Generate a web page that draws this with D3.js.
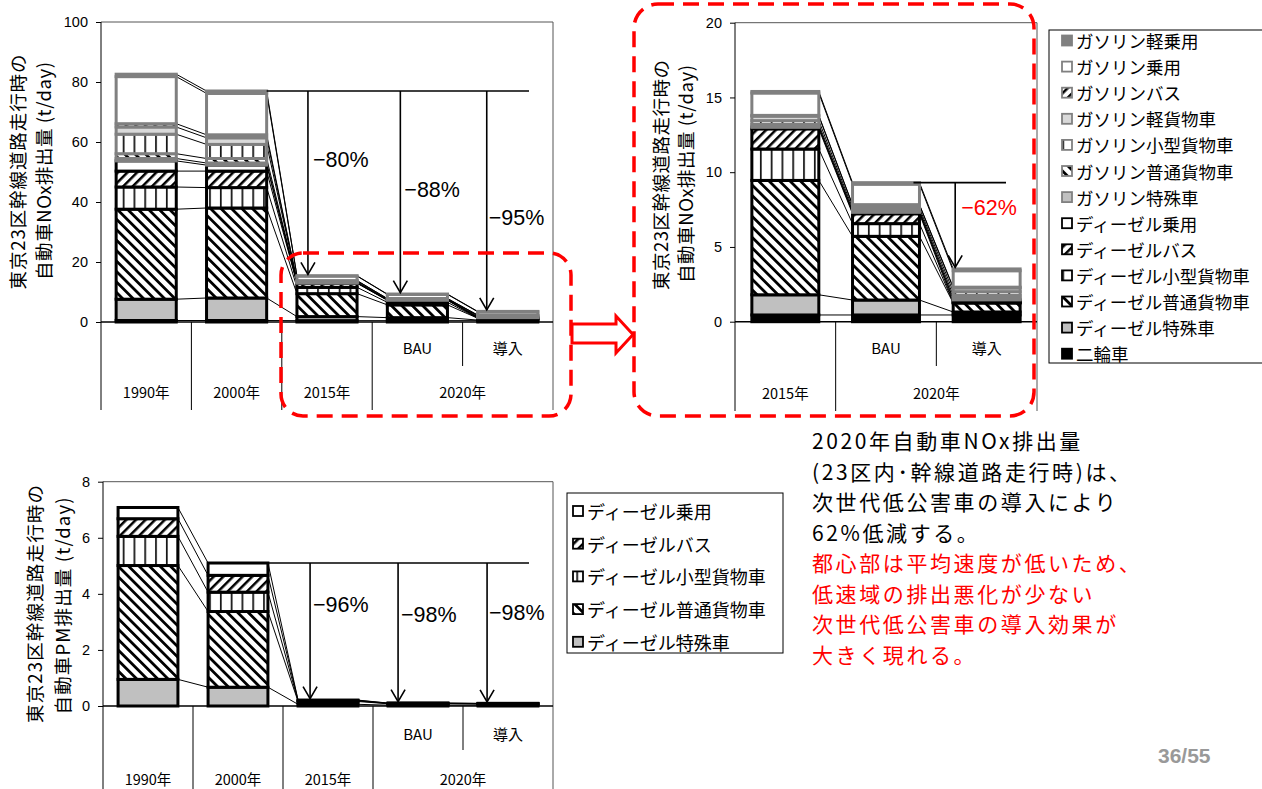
<!DOCTYPE html>
<html><head><meta charset="utf-8">
<script src="https://cdn.jsdelivr.net/npm/d3@7/dist/d3.min.js"></script>
<style>
html,body{margin:0;padding:0;background:#fff;}
svg{display:block;}
text{font-family:"Liberation Sans","Noto Sans CJK JP",sans-serif;}
.jp{font-family:"Noto Sans CJK JP",sans-serif;}
</style></head><body>
<svg id="c" width="1262" height="789"></svg>
<script>
// ---- categories ----
const catKeys = ["1990", "2000", "2015", "BAU", "導入"];
const subLabels = ["", "", "", "BAU", "導入"];
const groupLabels = ["1990年", "2000年", "2015年", "2020年"];
const groupSpans = [1, 1, 1, 2];

// ---- NOx (t/day), per category: 1990, 2000, 2015, 2020 BAU, 2020 導入 ----
const noxMotorcycle   = [0.5, 0.5, 0.45, 0.45, 0.45];
const noxDSpecial     = [7.1, 7.5, 1.35, 1.0, 0.2];
const noxDHeavy       = [30.0, 30.0, 7.65, 4.26, 0.6];
const noxDSmall       = [7.4, 6.8, 2.1, 0.85, 0.03];
const noxDBus         = [5.3, 5.5, 1.35, 0.66, 0.03];
const noxDCar         = [3.4, 2.0, 0.1, 0.1, 0.15];
const noxGSpecial     = [0.8, 0.7, 0.05, 0.03, 0.1];
const noxGHeavy       = [1.6, 1.5, 0.15, 0.1, 0.2];
const noxGSmall       = [6.5, 4.7, 0.25, 0.15, 0.25];
const noxGLightTruck  = [2.4, 2.2, 0.3, 0.2, 0.25];
const noxGBus         = [1.1, 1.0, 0.05, 0.03, 0.05];
const noxGCar         = [15.7, 13.8, 1.5, 1.37, 1.1];
const noxGKei         = [0.8, 0.8, 0.1, 0.1, 0.12];

// ---- PM (t/day) ----
const pmDSpecial = [0.95, 0.67, 0.06, 0.03, 0.03];
const pmDHeavy   = [4.06, 2.70, 0.10, 0.05, 0.04];
const pmDSmall   = [1.04, 0.69, 0.02, 0.01, 0.01];
const pmDBus     = [0.63, 0.60, 0.02, 0.01, 0.01];
const pmDCar     = [0.40, 0.44, 0.01, 0.005, 0.005];

// legend order (top to bottom); stacks are drawn in reverse
const noxLegend = [
  ["gKei", "ガソリン軽乗用"], ["gCar", "ガソリン乗用"], ["gBus", "ガソリンバス"],
  ["gLightTruck", "ガソリン軽貨物車"], ["gSmall", "ガソリン小型貨物車"],
  ["gHeavy", "ガソリン普通貨物車"], ["gSpecial", "ガソリン特殊車"],
  ["dCar", "ディーゼル乗用"], ["dBus", "ディーゼルバス"], ["dSmall", "ディーゼル小型貨物車"],
  ["dHeavy", "ディーゼル普通貨物車"], ["dSpecial", "ディーゼル特殊車"], ["motorcycle", "二輪車"]
];
const pmLegend = [
  ["dCar", "ディーゼル乗用"], ["dBus", "ディーゼルバス"], ["dSmall", "ディーゼル小型貨物車"],
  ["dHeavy", "ディーゼル普通貨物車"], ["dSpecial", "ディーゼル特殊車"]
];

const noxTicksL = [0, 20, 40, 60, 80, 100];
const noxTicksR = [0, 5, 10, 15, 20];
const pmTicks = [0, 2, 4, 6, 8];

const noteBlack = ["2020年自動車NOx排出量", "(23区内･幹線道路走行時)は、", "次世代低公害車の導入により", "62%低減する。"];
const noteRed = ["都心部は平均速度が低いため、", "低速域の排出悪化が少ない", "次世代低公害車の導入効果が", "大きく現れる。"];

const noxValues = {
  motorcycle: noxMotorcycle, dSpecial: noxDSpecial, dHeavy: noxDHeavy, dSmall: noxDSmall,
  dBus: noxDBus, dCar: noxDCar, gSpecial: noxGSpecial, gHeavy: noxGHeavy, gSmall: noxGSmall,
  gLightTruck: noxGLightTruck, gBus: noxGBus, gCar: noxGCar, gKei: noxGKei
};
const pmValues = { dSpecial: pmDSpecial, dHeavy: pmDHeavy, dSmall: pmDSmall, dBus: pmDBus, dCar: pmDCar };

const noxStackKeys = noxLegend.map(d => d[0]).reverse();
const pmStackKeys = pmLegend.map(d => d[0]).reverse();

function buildRows(values, keys, idx) {
  return idx.map(i => {
    const r = { cat: catKeys[i] };
    keys.forEach(k => r[k] = values[k][i]);
    return r;
  });
}

const svg = d3.select("#c");
const defs = svg.append("defs");

function hatch(id, angle, size, stripe) {
  const p = defs.append("pattern").attr("id", id).attr("patternUnits", "userSpaceOnUse")
    .attr("width", size).attr("height", size).attr("patternTransform", `rotate(${angle})`);
  p.append("rect").attr("width", size).attr("height", size).attr("fill", "#fff");
  p.append("rect").attr("width", stripe).attr("height", size).attr("fill", "#000");
}
hatch("hDown", -45, 7.4, 2.8);
hatch("hUp", 45, 6.8, 2.5);
{
  const p = defs.append("pattern").attr("id", "vLines").attr("patternUnits", "userSpaceOnUse")
    .attr("width", 10.8).attr("height", 10);
  p.append("rect").attr("width", 10.8).attr("height", 10).attr("fill", "#fff");
  p.append("rect").attr("x", 4).attr("width", 1.6).attr("height", 10).attr("fill", "#000");
}

const GRAY = "#808080";
const styles = {
  motorcycle: { fill: "#000", stroke: "#000" },
  dSpecial: { fill: "#c0c0c0", stroke: "#000" },
  dHeavy: { fill: "url(#hDown)", stroke: "#000" },
  dSmall: { fill: "url(#vLines)", stroke: "#000" },
  dBus: { fill: "url(#hUp)", stroke: "#000" },
  dCar: { fill: "#fff", stroke: "#000" },
  gSpecial: { fill: "#c0c0c0", stroke: GRAY },
  gHeavy: { fill: "url(#hDown)", stroke: GRAY },
  gSmall: { fill: "url(#vLines)", stroke: GRAY },
  gLightTruck: { fill: "#d9d9d9", stroke: GRAY },
  gBus: { fill: "url(#hUp)", stroke: GRAY },
  gCar: { fill: "#fff", stroke: GRAY },
  gKei: { fill: GRAY, stroke: GRAY }
};

function drawChart(o) {
  const g = svg.append("g");
  const cats = o.idx.map(i => catKeys[i]);
  const x = d3.scaleBand().domain(cats).range([o.x0, o.x1]).paddingInner(0.335).paddingOuter(0.1675);
  const y = d3.scaleLinear().domain([0, o.ticks[o.ticks.length - 1]]).range([o.yZero, o.yTop]);
  const bw = x.bandwidth(), step = x.step();
  const rows = buildRows(o.values, o.keys, o.idx);
  const stacked = d3.stack().keys(o.keys)(rows);

  // plot frame (top and right edges)
  g.append("path").attr("d", `M${o.x0},${o.yTop}H${o.x1}V${o.bottom}`)
    .attr("fill", "none").attr("stroke", "#555").attr("stroke-width", 1);
  // value axis line and category separators
  g.append("line").attr("x1", o.x0).attr("x2", o.x0).attr("y1", o.yTop).attr("y2", o.bottom)
    .attr("stroke", "#000").attr("stroke-width", 1);
  const subs = o.idx.map(i => subLabels[i]);
  for (let i = 1; i < cats.length; i++) {
    const isInner = subs[i] !== "" && subs[i - 1] !== "";
    g.append("line").attr("x1", o.x0 + i * step).attr("x2", o.x0 + i * step)
      .attr("y1", o.yZero).attr("y2", isInner ? o.subBottom : o.bottom)
      .attr("stroke", "#000").attr("stroke-width", 1);
  }
  // series lines
  stacked.forEach(layer => {
    for (let i = 0; i < layer.length - 1; i++) {
      g.append("line")
        .attr("x1", x(cats[i]) + bw).attr("y1", y(layer[i][1]))
        .attr("x2", x(cats[i + 1])).attr("y2", y(layer[i + 1][1]))
        .attr("stroke", "#000").attr("stroke-width", 1);
    }
  });
  // stacked bars
  stacked.forEach(layer => {
    const st = styles[layer.key];
    g.append("g").selectAll("rect").data(layer).join("rect")
      .attr("x", d => x(d.data.cat)).attr("width", bw)
      .attr("y", d => y(d[1])).attr("height", d => Math.max(0, y(d[0]) - y(d[1])))
      .attr("fill", st.fill).attr("stroke", st.stroke).attr("stroke-width", 3);
  });
  // zero line
  g.append("line").attr("x1", o.x0).attr("x2", o.x1).attr("y1", o.yZero).attr("y2", o.yZero)
    .attr("stroke", "#000").attr("stroke-width", 1.5);
  // value axis ticks
  const ax = g.append("g").attr("transform", `translate(${o.x0},0)`)
    .call(d3.axisLeft(y).tickValues(o.ticks).tickSize(5).tickPadding(8).tickSizeOuter(0));
  ax.select(".domain").remove();
  ax.selectAll("line").attr("stroke", "#000");
  ax.selectAll("text").attr("font-size", 14.5).attr("fill", "#000")
    .attr("font-family", "'Liberation Sans', Arial, sans-serif");

  // category labels: sub labels then group labels
  cats.forEach((c, i) => {
    if (subs[i]) {
      g.append("text").attr("class", "jp").attr("x", x(c) + bw / 2).attr("y", o.subY)
        .attr("text-anchor", "middle").attr("dominant-baseline", "central")
        .attr("font-size", 15).text(subs[i]);
    }
  });
  let pos = 0;
  groupLabels.forEach((lab, gi) => {
    const span = groupSpans[gi];
    const start = pos, end = pos + span - 1;
    pos += span;
    const a = o.idx.indexOf(start), b = o.idx.indexOf(end);
    if (a < 0 || b < 0) return;
    const cx = (o.x0 + a * step + o.x0 + (b + 1) * step) / 2;
    g.append("text").attr("class", "jp").attr("x", cx).attr("y", o.groupY)
      .attr("text-anchor", "middle").attr("dominant-baseline", "central")
      .attr("font-size", 14.5).text(lab);
  });

  // axis title (two rotated lines)
  o.title.forEach(t => {
    g.append("text").attr("class", "jp")
      .attr("transform", `translate(${t.x},${t.y}) rotate(-90)`)
      .attr("text-anchor", "middle").attr("dominant-baseline", "central")
      .attr("font-size", 18.5).attr("textLength", t.len).attr("lengthAdjust", "spacing")
      .text(t.text);
  });

  const totals = rows.map(r => d3.sum(o.keys, k => r[k]));
  return { g, x, y, bw, cats, totals };
}

// reduction arrows measured from a base bar total
function drawReduction(ch, baseIdx, targets, color, lineStartX, lineEndX) {
  const yb = ch.y(ch.totals[baseIdx]);
  ch.g.append("line").attr("x1", lineStartX).attr("x2", lineEndX).attr("y1", yb).attr("y2", yb)
    .attr("stroke", "#000").attr("stroke-width", 1.6);
  targets.forEach(t => {
    const ax = ch.x(ch.cats[t.i]) + t.dx;
    const yt = ch.y(ch.totals[t.i]) - 1.5;
    ch.g.append("line").attr("x1", ax).attr("x2", ax).attr("y1", yb).attr("y2", yt)
      .attr("stroke", "#000").attr("stroke-width", 1.6);
    ch.g.append("path").attr("d", `M${ax - 7},${yt - 12}L${ax},${yt}L${ax + 7},${yt - 12}`)
      .attr("fill", "none").attr("stroke", "#000").attr("stroke-width", 1.6);
    const pct = Math.round((1 - ch.totals[t.i] / ch.totals[baseIdx]) * 100);
    ch.g.append("text").attr("x", ax + t.lx).attr("y", t.ly).attr("dominant-baseline", "central")
      .attr("font-size", 21.5).attr("fill", color).text("\u2212" + pct + "%");
  });
}

// ---- NOx, all years ----
const chA = drawChart({
  idx: [0, 1, 2, 3, 4], values: noxValues, keys: noxStackKeys, ticks: noxTicksL,
  x0: 101, x1: 553, yTop: 22, yZero: 322, bottom: 410, subBottom: 366, subY: 347, groupY: 391,
  title: [
    { x: 17, y: 172, len: 235, text: "東京23区幹線道路走行時の" },
    { x: 43, y: 171, len: 218, text: "自動車NOx排出量 (t/day)" }
  ]
});
drawReduction(chA, 1, [
  { i: 2, dx: 11, lx: 5, ly: 160 },
  { i: 3, dx: 13, lx: 4, ly: 190 },
  { i: 4, dx: 9, lx: 2, ly: 218 }
], "#000", chA.x(chA.cats[1]) + chA.bw, 529);

// ---- NOx, 2015 and 2020 close-up ----
const chB = drawChart({
  idx: [2, 3, 4], values: noxValues, keys: noxStackKeys, ticks: noxTicksR,
  x0: 735, x1: 1037, yTop: 22.7, yZero: 321.7, bottom: 411, subBottom: 366, subY: 347, groupY: 392,
  title: [
    { x: 660, y: 175, len: 230, text: "東京23区幹線道路走行時の" },
    { x: 685, y: 174, len: 218, text: "自動車NOx排出量 (t/day)" }
  ]
});
drawReduction(chB, 1, [{ i: 2, dx: 2, lx: 6, ly: 208 }], "#ff0000",
  chB.x(chB.cats[1]) + chB.bw - 6, 1006);

// ---- PM, all years ----
const chC = drawChart({
  idx: [0, 1, 2, 3, 4], values: pmValues, keys: pmStackKeys, ticks: pmTicks,
  x0: 103, x1: 553, yTop: 481.7, yZero: 706, bottom: 800, subBottom: 750, subY: 733, groupY: 778,
  title: [
    { x: 34, y: 604, len: 238, text: "東京23区幹線道路走行時の" },
    { x: 62, y: 606, len: 217, text: "自動車PM排出量 (t/day)" }
  ]
});
drawReduction(chC, 1, [
  { i: 2, dx: 12, lx: 3, ly: 605 },
  { i: 3, dx: 10, lx: 3, ly: 615 },
  { i: 4, dx: 9, lx: 2, ly: 613 }
], "#000", chC.x(chC.cats[1]) + chC.bw, 529);

// ---- legends ----
function drawLegend(items, bx, by, bwid, bh, x0, y0, dy, fs) {
  const g = svg.append("g");
  g.append("rect").attr("x", bx).attr("y", by).attr("width", bwid).attr("height", bh)
    .attr("fill", "#fff").attr("stroke", "#000").attr("stroke-width", 1);
  items.forEach((it, i) => {
    const cy = y0 + i * dy;
    const st = styles[it[0]];
    g.append("rect").attr("x", x0).attr("y", cy - 5).attr("width", 10).attr("height", 10)
      .attr("fill", st.fill).attr("stroke", st.stroke).attr("stroke-width", 1.8);
    g.append("text").attr("class", "jp").attr("x", x0 + 14).attr("y", cy)
      .attr("dominant-baseline", "central").attr("font-size", fs).text(it[1]);
  });
}
drawLegend(noxLegend, 1049, 30, 230, 333, 1062, 40.5, 26.1, 17.5);
drawLegend(pmLegend, 567, 493, 216, 160, 573, 511, 32.7, 18);

// ---- dashed call-out frames and arrow ----
svg.append("rect").attr("x", 281).attr("y", 253).attr("width", 290).attr("height", 163)
  .attr("rx", 22).attr("fill", "none").attr("stroke", "#ff0000").attr("stroke-width", 3.5)
  .attr("stroke-dasharray", "16,9");
svg.append("rect").attr("x", 634).attr("y", 4).attr("width", 400).attr("height", 412)
  .attr("rx", 24).attr("fill", "none").attr("stroke", "#ff0000").attr("stroke-width", 3.5)
  .attr("stroke-dasharray", "16,9");
svg.append("path").attr("d", "M572,324H616V316L633,334.5L616,353V343H572Z")
  .attr("fill", "#fff").attr("stroke", "#ff0000").attr("stroke-width", 3);

// ---- note text ----
const note = svg.append("g");
noteBlack.concat(noteRed).forEach((t, i) => {
  note.append("text").attr("class", "jp").attr("x", 812).attr("y", 440 + i * 30.5)
    .attr("dominant-baseline", "central").attr("font-size", 21).attr("letter-spacing", 2.6)
    .attr("fill", i < noteBlack.length ? "#000" : "#ff0000").text(t);
});
svg.append("text").attr("x", 1158).attr("y", 763).attr("font-size", 21).attr("font-weight", "bold")
  .attr("font-family", "'Liberation Sans Narrow','Liberation Sans',sans-serif")
  .attr("fill", "#999").text("36/55");
</script>
</body></html>
